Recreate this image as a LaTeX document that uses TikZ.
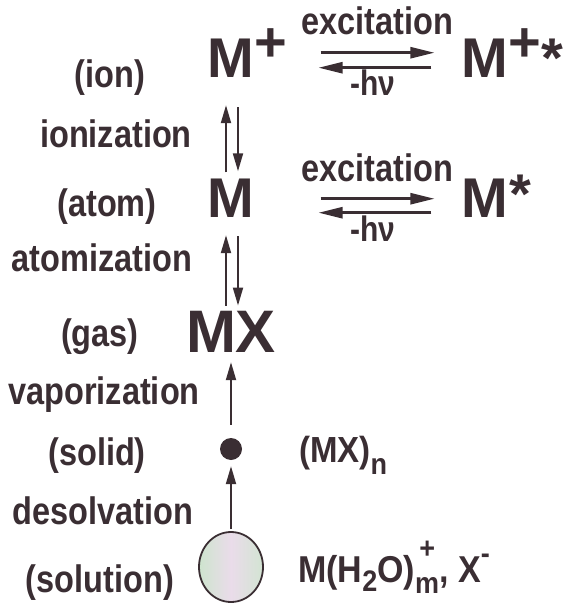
\documentclass[tikz,border=0pt]{standalone}
\usepackage{fontspec}
\usepackage{graphicx}
\setmainfont{Liberation Sans}
\usetikzlibrary{arrows.meta,shapes.geometric}
\definecolor{ink}{HTML}{3A2E33}
\newcommand{\lblsz}{\fontsize{32.5}{36}\selectfont}
\newcommand{\spsz}{\fontsize{56}{60}\selectfont}
\newcommand{\mxsz}{\fontsize{60}{64}\selectfont}
\newcommand{\rsz}{\fontsize{33}{36}\selectfont}
\newcommand{\aqsz}{\fontsize{34}{36}\selectfont}
\newcommand{\subsz}{\fontsize{27}{30}\selectfont}
\newcommand{\vst}[1]{\scalebox{1}[1.18]{#1}}
\newcommand{\vsr}[1]{\scalebox{1}[1.1]{#1}}
\begin{document}
\begin{tikzpicture}[x=1pt,y=-1pt,
  lbl/.style={anchor=base, inner sep=0pt, text=ink, font=\bfseries\lblsz},
  hvlbl/.style={anchor=base, inner sep=0pt, text=ink, font=\bfseries\fontsize{30}{32}\selectfont},
  sp/.style={anchor=base, inner sep=0pt, text=ink, font=\bfseries\spsz},
  rtxt/.style={anchor=base west, inner sep=0pt, text=ink, font=\bfseries\rsz},
  varr/.style={draw=ink, line width=2pt, -{Triangle[length=18pt,width=10pt]}},
  harr/.style={draw=ink, line width=2.5pt, -{Triangle[length=24pt,width=11pt]}},
]
\useasboundingbox (0,0) rectangle (568,604);
% left column labels
\node[lbl] (lion)    at (110,88)  {\vst{(ion)}};
\node[lbl] (lioniz)  at (116,147) {\vst{ionization}};
\node[lbl] (latom)   at (107,216) {\vst{(atom)}};
\node[lbl] (latomiz) at (102,271) {\vst{atomization}};
\node[lbl] (lgas)    at (100,346) {\vst{(gas)}};
\node[lbl] (lvap)    at (104,404) {\vst{vaporization}};
\node[lbl] (lsolid)  at (97,465)  {\vst{(solid)}};
\node[lbl] (ldesolv) at (103,524) {\vst{desolvation}};
\node[lbl] (lsoln)   at (100,592) {\vst{(solution)}};
% species
\node[sp] (Mion)   at (231,78)  {M\rlap{\smash{\raisebox{16pt}{+}}}};
\node[sp] (Matom)  at (231,217) {M};
\node[sp, font=\bfseries\mxsz] (MX) at (231,352) {MX};
\node[sp] (Mionx)  at (485,78)  {M\rlap{\smash{\raisebox{16pt}{+}}*}};
\node[sp] (Matomx) at (485,217) {M\rlap{\smash{\raisebox{4pt}{\kern1pt*}}}};
\node[circle, fill=ink, inner sep=0pt, minimum size=22pt] (solid) at (231,449) {};
\node[ellipse, draw=ink, line width=1.8pt, inner sep=0pt, minimum width=64pt, minimum height=70pt,
      left color=green!30!gray!30, right color=green!25!gray!28, middle color=magenta!25!gray!22] (soln) at (231,567) {};
% excitation labels
\node[lbl] (ex1) at (377,35) {\vst{excitation}};
\node[hvlbl] (hv1) at (373,96) {\vst{-hν}};
\node[lbl] (ex2) at (377,181) {\vst{excitation}};
\node[hvlbl] (hv2) at (373,241) {\vst{-hν}};
% right-hand formulas
\node[rtxt] (mxn) at (299,462) {\vsr{(MX)\raisebox{-11pt}{\subsz n}}};
\node[rtxt, font=\bfseries\aqsz] (aq) at (298,582) {\vsr{M(H\raisebox{-9pt}{\subsz 2}O)%
  {\setbox0\hbox{\subsz m}\rlap{\raisebox{21pt}{\hbox to \wd0{\hss\subsz +\hss}}}\raisebox{-10pt}{\copy0}}, X\raisebox{17pt}{\subsz -}}};
% horizontal excitation arrows
\draw[harr, shorten <=66pt, shorten >=27pt] ([yshift=6pt]Mion.east) -- ([yshift=6pt]Mionx.west);
\draw[harr, shorten <=30pt, shorten >=64pt] ([yshift=-9pt]Mionx.west) -- ([yshift=-9pt]Mion.east);
\draw[harr, shorten <=66pt, shorten >=27pt] ([yshift=-1pt]Matom.east) -- ([yshift=-1pt]Matomx.west);
\draw[harr, shorten <=30pt, shorten >=64pt] ([yshift=-15pt]Matomx.west) -- ([yshift=-15pt]Matom.east);
% ionization
\draw[varr, shorten <=6pt, shorten >=27pt] ([xshift=-5pt]Matom.north) -- ([xshift=-5pt]Mion.south);
\draw[varr, shorten <=29pt, shorten >=7pt] ([xshift=7pt]Mion.south) -- ([xshift=7pt]Matom.north);
% atomization
\draw[varr, shorten <=5pt, shorten >=18pt] ([xshift=-5pt]MX.north) -- ([xshift=-5pt]Matom.south);
\draw[varr, shorten <=19pt, shorten >=5pt] ([xshift=7pt]Matom.south) -- ([xshift=7pt]MX.north);
% vaporization
\draw[varr, shorten <=13pt, shorten >=10pt] (solid.north) -- (MX.south);
% desolvation
\draw[varr, shorten <=2pt, shorten >=6pt] (soln.north) -- (solid.south);
\end{tikzpicture}
\end{document}
